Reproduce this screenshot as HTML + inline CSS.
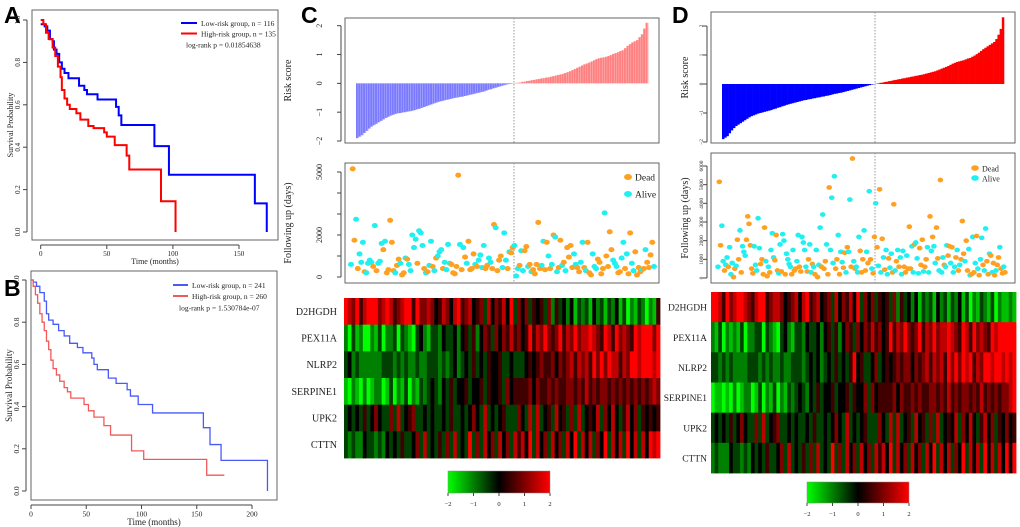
<!DOCTYPE html>
<html><head><meta charset="utf-8"><title>Risk model figure</title>
<style>
html,body{margin:0;padding:0;background:#fff;}
svg{display:block;font-family:"Liberation Serif",serif;}
.pl{font-family:"Liberation Sans",sans-serif;font-weight:bold;font-size:23px;}
</style></head>
<body>
<svg id="fig" width="1020" height="527" viewBox="0 0 1020 527" xmlns="http://www.w3.org/2000/svg">
<text class="pl" x="4" y="23">A</text>
<text class="pl" x="4" y="296">B</text>
<text class="pl" x="301" y="23">C</text>
<text class="pl" x="672" y="23">D</text>
</svg>
<script>
// ---------- Kaplan-Meier data ----------
const kmATicksX=[0,50,100,150];
const kmATicksY=[0,0.2,0.4,0.6,0.8,1.0];
const kmALow=[[0,0.98],[3,0.97],[5,0.95],[7,0.91],[9,0.9],[10,0.86],[12,0.84],[14,0.8],[16,0.77],[18,0.75],[21,0.725],[29,0.69],[33,0.67],[35,0.65],[43,0.625],[57,0.59],[59,0.55],[61,0.505],[86,0.405],[97,0.27],[162,0.135],[171,0]];
const kmAHigh=[[0,1],[2,0.98],[4,0.94],[6,0.91],[9,0.87],[11,0.83],[13,0.78],[15,0.73],[16,0.67],[18,0.63],[20,0.6],[22,0.58],[27,0.56],[30,0.53],[36,0.5],[40,0.49],[48,0.47],[50,0.45],[56,0.41],[65,0.36],[67,0.295],[91,0.145],[102,0]];
const kmALegend=["Low-risk group, n = 116","High-risk group, n = 135","log-rank p = 0.01854638"];
const kmBTicksX=[0,50,100,150,200];
const kmBTicksY=[0,0.2,0.4,0.6,0.8,1.0];
const kmBLow=[[0,1],[2,0.99],[5,0.97],[8,0.94],[12,0.9],[14,0.84],[16,0.81],[20,0.79],[25,0.76],[30,0.735],[35,0.7],[42,0.68],[47,0.655],[55,0.63],[57,0.6],[60,0.575],[70,0.535],[77,0.51],[87,0.48],[90,0.45],[97,0.41],[110,0.37],[156,0.3],[162,0.22],[172,0.145],[214,0]];
const kmBHigh=[[0,1],[2,0.97],[4,0.93],[6,0.89],[8,0.84],[10,0.8],[12,0.76],[14,0.71],[16,0.67],[18,0.62],[20,0.58],[23,0.55],[26,0.52],[30,0.49],[33,0.47],[36,0.44],[48,0.41],[52,0.38],[57,0.35],[66,0.31],[72,0.265],[91,0.19],[102,0.15],[159,0.075],[175,0.075]];
const kmBLegend=["Low-risk group, n = 241","High-risk group, n = 260","log-rank p = 1.530784e-07"];

// ---------- Risk score data ----------
const cRisk=[-1.9,-1.85,-1.8,-1.72,-1.65,-1.57,-1.5,-1.45,-1.4,-1.35,-1.3,-1.25,-1.2,-1.16,-1.12,-1.09,-1.06,-1.04,-1.03,-1.01,-1.0,-0.98,-0.97,-0.95,-0.93,-0.9,-0.88,-0.85,-0.82,-0.79,-0.76,-0.73,-0.7,-0.67,-0.64,-0.62,-0.6,-0.58,-0.56,-0.54,-0.52,-0.5,-0.49,-0.47,-0.46,-0.44,-0.42,-0.4,-0.38,-0.36,-0.34,-0.32,-0.3,-0.28,-0.25,-0.22,-0.2,-0.17,-0.15,-0.12,-0.1,-0.07,-0.05,-0.03,-0.02,-0.01,0.01,0.02,0.03,0.05,0.06,0.08,0.09,0.11,0.12,0.14,0.15,0.17,0.18,0.2,0.21,0.23,0.25,0.27,0.29,0.31,0.33,0.36,0.39,0.42,0.46,0.5,0.54,0.58,0.62,0.66,0.69,0.72,0.76,0.8,0.84,0.87,0.89,0.9,0.92,0.95,0.98,1.02,1.05,1.08,1.12,1.15,1.22,1.3,1.36,1.42,1.46,1.5,1.6,1.7,1.9,2.1];
const dRisk=[-1.9,-1.85,-1.8,-1.7,-1.6,-1.52,-1.45,-1.4,-1.35,-1.3,-1.25,-1.2,-1.15,-1.11,-1.08,-1.05,-1.02,-1.0,-0.98,-0.96,-0.94,-0.92,-0.9,-0.87,-0.85,-0.82,-0.8,-0.77,-0.75,-0.72,-0.7,-0.68,-0.66,-0.64,-0.62,-0.6,-0.58,-0.56,-0.55,-0.53,-0.52,-0.5,-0.49,-0.47,-0.46,-0.44,-0.43,-0.41,-0.4,-0.38,-0.36,-0.34,-0.33,-0.31,-0.3,-0.28,-0.26,-0.24,-0.22,-0.2,-0.18,-0.16,-0.14,-0.12,-0.1,-0.08,-0.06,-0.04,-0.02,-0.01,0.01,0.02,0.04,0.05,0.07,0.08,0.1,0.11,0.13,0.14,0.16,0.17,0.19,0.2,0.22,0.23,0.25,0.26,0.28,0.29,0.31,0.32,0.34,0.36,0.38,0.4,0.42,0.44,0.47,0.5,0.53,0.56,0.59,0.62,0.66,0.7,0.73,0.76,0.78,0.8,0.82,0.85,0.88,0.9,0.94,0.98,1.03,1.08,1.14,1.2,1.25,1.3,1.35,1.4,1.45,1.55,1.7,1.9,2.3];
const riskTicks=[-2,-1,0,1,2];

// ---------- Follow-up data (days, dead=1) ----------
const cDays=[600,5150,1750,2750,400,1100,700,1650,250,200,650,800,700,500,2450,300,650,750,1600,1300,1700,200,350,2700,1650,300,200,550,850,650,100,200,900,850,600,300,2000,1400,1800,650,2200,2100,1500,400,200,250,550,1700,500,300,900,1000,1200,1300,400,700,350,1550,650,600,200,150,500,4850,1550,350,1400,950,650,1700,350,400,1100,600,500,800,1050,450,1500,400,550,900,700,400,2500,2350,300,800,1000,450,2100,800,400,1200,1150,1400,1500,50,400,550,1250,300,1250,1450,500,600,250,350,150,600,2600,400,550,1700,350,1650,1000,400,600,2000,1900,250,450,1750,550,700,300,1400,950,1500,450,1100,600,450,250,700,1650,450,300,1650,200,100,1100,500,400,850,700,150,400,3050,1000,500,2150,1300,800,650,500,200,250,900,1650,400,1100,150,2100,650,300,1200,100,450,250,350,400,1300,700,450,1050,1650,500];
const cDead=[0,1,1,0,1,0,0,0,1,0,0,0,0,1,0,1,0,0,0,1,0,1,1,1,1,1,0,1,1,0,1,1,0,1,0,0,0,0,0,1,0,0,0,1,0,1,0,0,1,0,1,0,0,0,1,0,0,0,0,1,1,1,1,1,0,1,0,1,0,1,1,1,1,0,1,0,0,0,0,1,1,0,0,1,1,0,1,1,1,0,0,0,1,0,1,1,0,0,0,1,0,0,1,1,0,1,0,1,1,1,1,1,0,0,1,1,0,1,0,1,0,0,1,1,0,1,0,1,1,1,1,0,0,1,1,0,0,1,0,1,1,1,0,0,0,1,1,1,1,0,1,1,1,1,0,0,0,1,1,0,0,1,0,1,1,0,0,1,1,1,1,0,1,0,1,1,1,1,0,1,0,1,0,1,0];
const dDays=[600,5150,1750,2800,900,400,700,1100,600,1650,200,800,50,500,650,2050,1000,2550,300,1700,1400,1200,2050,3300,2900,1750,500,250,1700,700,400,3200,1600,750,1000,200,2700,900,100,600,300,1500,2400,1100,950,2300,400,250,1800,350,2350,2000,200,1300,1000,750,600,200,1500,400,500,900,2300,600,350,2200,1900,1500,600,350,1000,1800,300,750,600,200,1500,50,700,2700,600,3400,500,900,1800,200,4850,1500,4300,800,5450,500,1000,2300,200,1400,850,550,1350,300,1650,1400,4200,600,6400,900,500,600,300,2200,1450,300,1000,2550,400,1400,800,4650,1000,500,250,2200,4000,1650,650,4750,300,2100,1100,450,1500,200,1050,550,1300,300,3950,400,900,1500,600,1100,200,1450,600,300,1200,500,2750,500,1700,300,1800,1900,1050,250,1600,700,2050,350,600,1000,1650,300,3300,1450,2200,1700,800,2700,1050,400,5250,300,1100,700,600,1750,1200,1700,800,1650,300,600,1100,1500,400,700,1000,3050,1300,900,2000,400,1550,150,200,2200,300,800,2250,500,150,1000,2150,700,400,2650,900,200,1300,1200,300,800,150,400,700,1100,1650,500,250,600,300];
const dDead=[0,1,1,0,0,1,0,0,1,0,0,0,1,1,0,1,1,0,1,0,0,0,1,1,1,1,1,1,0,0,0,0,0,1,1,1,1,0,1,0,1,0,0,0,1,1,1,0,0,1,0,0,1,0,0,0,0,1,0,1,1,0,0,1,1,0,0,0,0,1,1,0,0,1,0,1,0,1,0,0,1,0,1,1,0,1,1,0,0,0,0,1,1,0,1,0,0,1,1,0,1,0,0,1,1,0,1,0,0,0,1,1,1,0,1,0,1,0,1,0,1,1,0,1,0,1,0,1,0,1,0,0,1,0,0,1,1,0,1,0,1,0,0,0,1,1,0,1,1,1,0,0,1,0,0,0,1,1,1,0,1,1,0,0,1,0,1,0,0,1,1,0,1,0,0,1,0,0,1,1,0,1,0,0,1,0,1,0,1,1,1,0,1,1,0,0,1,0,1,0,1,0,1,0,0,1,0,0,1,1,0,1,0,1,1,0,1,1,0,1,1,0,1,0];
const cFollowTicks=[0,1000,2000,3000,4000,5000];
const cFollowLabels=["0","","2000","","","5000"];
const dFollowTicks=[0,1000,2000,3000,4000,5000,6000];
const dFollowLabels=["0","1000","2000","3000","4000","5000","6000"];

// ---------- Heatmap data (digit 0..8 => -2..2) ----------
const genes=["D2HGDH","PEX11A","NLRP2","SERPINE1","UPK2","CTTN"];
const cHeat=[
"876857888678756788586676457647856745637465748364635453625342413231423132413021320215",
"203120021302230321034213324334245352465364657564585768656857686778765875867658788868",
"342322222233323232232233323234234353435445334333454565564656757675868687757688788878",
"102102012201302130213234324353445344535445364555564655656556656575656656565656565676",
"343435346433637345633434334353343464373434533364373734537453637345473647435746354545",
"323224332324343533463734353637343836374637463757483746374637483747364837473847374878"];
const dHeat=[
"887586788765788567764567478567456374657483646354536253424132314231324130213213021121",
"213021213022330321034213324334245352465364657564585768656857686778765875867658788888",
"332323222233323232232233323434234353435845334634545656646567576758686878576887887878",
"011010201220130213021323432435344534453544636455556465565655665657565665657565656678",
"343435346433637345633434334353343464373434533364373734537453637345473647435746354645",
"232224332324343533463734353637343836374637463757483746374637483747364837473847374848"];
const cbTicks=[-2,-1,0,1,2];
const cbLabels=["\u22122","\u22121","0","1","2"];

// ---------- helpers ----------
const svg=document.getElementById('fig');
const NS="http://www.w3.org/2000/svg";
function mk(tag,attrs,name,parent){
  const el=document.createElementNS(NS,tag);
  for(const k in attrs) el.setAttribute(k,attrs[k]);
  
  
  (parent||svg).appendChild(el);
  return el;
}
function txt(x,y,s,name,size,anchor,rot,parent){
  const a={x:x,y:y,'font-size':size,'text-anchor':anchor||'middle',fill:'#222'};
  if(rot) a.transform='rotate('+rot+' '+x+' '+y+')';
  const t=mk('text',a,name,parent);
  t.textContent=s;
  return t;
}
function lin(d0,d1,r0,r1){return v=>r0+(v-d0)/(d1-d0)*(r1-r0);}
function box(x0,y0,x1,y1,name){mk('rect',{x:x0,y:y0,width:x1-x0,height:y1-y0,fill:'none',stroke:'#666','stroke-width':1},name);}

// ---------- KM panels ----------
function km(cfg){
  const X=lin(0,cfg.xmax,cfg.x0,cfg.x1), Y=lin(0,1,cfg.y0,cfg.y1);
  box(cfg.bx0,cfg.by0,cfg.bx1,cfg.by1,cfg.id+'-plot-frame');
  const ay=cfg.by1+5;
  mk('line',{x1:X(cfg.tx[0]),y1:ay,x2:X(cfg.tx[cfg.tx.length-1]),y2:ay,stroke:'#444'},cfg.id+'-x-axis');
  cfg.tx.forEach(t=>{
    mk('line',{x1:X(t),y1:ay,x2:X(t),y2:ay+4,stroke:'#444'},cfg.id+'-x-tick');
    txt(X(t),ay+cfg.tfs+4,String(t),cfg.id+'-x-tick-label',cfg.tfs);
  });
  txt((cfg.bx0+cfg.bx1)/2,ay+cfg.tfs*2+5,'Time (months)',cfg.id+'-x-axis-title',cfg.afs);
  const ax=cfg.bx0-5;
  mk('line',{x1:ax,y1:Y(0),x2:ax,y2:Y(1),stroke:'#444'},cfg.id+'-y-axis');
  cfg.ty.forEach(t=>{
    mk('line',{x1:ax,y1:Y(t),x2:ax-4,y2:Y(t),stroke:'#444'},cfg.id+'-y-tick');
    txt(ax-7,Y(t),t.toFixed(1),cfg.id+'-y-tick-label',cfg.tfs,'middle',-90);
  });
  txt(cfg.ylx,(cfg.by0+cfg.by1)/2,'Survival Probability',cfg.id+'-y-axis-title',cfg.afs,'middle',-90);
  [[cfg.low,cfg.cl,'low-risk-curve'],[cfg.high,cfg.ch,'high-risk-curve']].forEach(([s,c,n])=>{
    let d='M'+X(s[0][0])+' '+Y(s[0][1]);
    for(let i=1;i<s.length;i++){d+=' H'+X(s[i][0])+' V'+Y(s[i][1]);}
    mk('path',{d:d,fill:'none',stroke:c,'stroke-width':cfg.lw},cfg.id+'-'+n);
  });
  const L=cfg.leg;
  mk('line',{x1:L.x,y1:L.y,x2:L.x+L.w,y2:L.y,stroke:cfg.cl,'stroke-width':2},cfg.id+'-legend-low-swatch');
  txt(L.x+L.w+4,L.y+3,cfg.legend[0],cfg.id+'-legend-low',cfg.lfs,'start');
  mk('line',{x1:L.x,y1:L.y+L.dy,x2:L.x+L.w,y2:L.y+L.dy,stroke:cfg.ch,'stroke-width':2},cfg.id+'-legend-high-swatch');
  txt(L.x+L.w+4,L.y+L.dy+3,cfg.legend[1],cfg.id+'-legend-high',cfg.lfs,'start');
  txt(L.px,L.y+2*L.dy+3.5,cfg.legend[2],cfg.id+'-logrank-p',cfg.lfs,'start');
}
km({id:'km-a',xmax:150,x0:40.7,x1:239,y0:232,y1:20,bx0:32,by0:10,bx1:278,by1:240,tx:kmATicksX,ty:kmATicksY,low:kmALow,high:kmAHigh,cl:'#0000ff',ch:'#ff0000',lw:2,tfs:7,afs:8,ylx:13,legend:kmALegend,lfs:7.5,leg:{x:181,y:23,w:16,dy:10.5,px:186}});
km({id:'km-b',xmax:200,x0:31,x1:252,y0:491,y1:280,bx0:31,by0:271,bx1:277,by1:500,tx:kmBTicksX,ty:kmBTicksY,low:kmBLow,high:kmBHigh,cl:'#4a5af5',ch:'#f05a5a',lw:1.3,tfs:7.5,afs:9,ylx:12,legend:kmBLegend,lfs:7.5,leg:{x:173,y:285,w:15,dy:11,px:179}});

// ---------- risk score panels ----------
function riskPanel(cfg){
  const Y=lin(-2,2,cfg.ym2,cfg.yp2);
  box(cfg.bx0,cfg.by0,cfg.bx1,cfg.by1,cfg.id+'-risk-frame');
  const n=cfg.data.length, w=(cfg.x1-cfg.x0)/n;
  let split=0;
  cfg.data.forEach((v,i)=>{
    if(v<0) split=i+1;
    const y0=Y(0), y1=Y(v);
    mk('rect',{x:cfg.x0+i*w,y:Math.min(y0,y1),width:w+0.3,height:Math.abs(y1-y0),fill:v<0?cfg.cb:cfg.cr},cfg.id+'-risk-bar');
    if(cfg.stripe) mk('rect',{x:cfg.x0+i*w+w*0.75,y:Math.min(y0,y1),width:w*0.25,height:Math.abs(y1-y0),fill:'#fff',opacity:0.45},cfg.id+'-risk-bar-gap');
  });
  const vx=cfg.x0+split*w;
  mk('line',{x1:vx,y1:cfg.by0,x2:vx,y2:cfg.by1,stroke:'#999','stroke-dasharray':'1.5,1.5'},cfg.id+'-risk-cutoff-line');
  mk('line',{x1:cfg.bx0-4,y1:Y(-2),x2:cfg.bx0-4,y2:Y(2),stroke:'#444'},cfg.id+'-risk-y-axis');
  riskTicks.forEach(t=>{
    mk('line',{x1:cfg.bx0-4,y1:Y(t),x2:cfg.bx0-8,y2:Y(t),stroke:'#444'},cfg.id+'-risk-y-tick');
    txt(cfg.tlx,Y(t),String(t).replace('-','\u2212'),cfg.id+'-risk-y-tick-label',cfg.tfs,'middle',-90);
  });
  txt(cfg.ylx,(cfg.by0+cfg.by1)/2,'Risk score',cfg.id+'-risk-y-axis-title',10,'middle',-90);
  return {vx:vx};
}
const cR=riskPanel({id:'c',data:cRisk,bx0:345,by0:18,bx1:659,by1:143,x0:356,x1:648,ym2:141,yp2:25.7,cb:'#7a7aff',cr:'#ff8080',stripe:true,tlx:322,tfs:8,ylx:291});
const dR=riskPanel({id:'d',data:dRisk,bx0:711,by0:12,bx1:1015,by1:143,x0:722,x1:1004,ym2:142,yp2:26,cb:'#0000ff',cr:'#ff0000',stripe:false,tlx:703,tfs:5.5,ylx:688});

// ---------- follow-up panels ----------
function followPanel(cfg){
  const Y=lin(0,cfg.tk[cfg.tk.length-1],cfg.y0,cfg.ytop);
  box(cfg.bx0,cfg.by0,cfg.bx1,cfg.by1,cfg.id+'-follow-frame');
  mk('line',{x1:cfg.vx,y1:cfg.by0,x2:cfg.vx,y2:cfg.by1,stroke:'#999','stroke-dasharray':'1.5,1.5'},cfg.id+'-follow-cutoff-line');
  const n=cfg.days.length;
  cfg.days.forEach((v,i)=>{
    const x=cfg.x0+i*(cfg.x1-cfg.x0)/(n-1);
    mk('ellipse',{cx:x,cy:Y(v),rx:cfg.r,ry:cfg.r*0.85,fill:cfg.dead[i]?'#ffa020':'#20f0f0'},cfg.id+(cfg.dead[i]?'-dead-point':'-alive-point'));
  });
  mk('line',{x1:cfg.bx0-4,y1:Y(cfg.tk[0]),x2:cfg.bx0-4,y2:Y(cfg.tk[cfg.tk.length-1]),stroke:'#444'},cfg.id+'-follow-y-axis');
  cfg.tk.forEach((t,i)=>{
    mk('line',{x1:cfg.bx0-4,y1:Y(t),x2:cfg.bx0-8,y2:Y(t),stroke:'#444'},cfg.id+'-follow-y-tick');
    if(cfg.lb[i]) txt(cfg.tlx,Y(t),cfg.lb[i],cfg.id+'-follow-y-tick-label',cfg.tfs,'middle',-90);
  });
  txt(cfg.ylx,(cfg.by0+cfg.by1)/2,'Following up (days)',cfg.id+'-follow-y-axis-title',10,'middle',-90);
  const L=cfg.leg;
  mk('ellipse',{cx:L.x,cy:L.y,rx:cfg.r+1,ry:cfg.r,fill:'#ffa020'},cfg.id+'-legend-dead-swatch');
  txt(L.x+7,L.y+3.5,'Dead',cfg.id+'-legend-dead',L.fs,'start');
  mk('ellipse',{cx:L.x,cy:L.y+L.dy,rx:cfg.r+1,ry:cfg.r,fill:'#20f0f0'},cfg.id+'-legend-alive-swatch');
  txt(L.x+7,L.y+L.dy+3.5,'Alive',cfg.id+'-legend-alive',L.fs,'start');
}
followPanel({id:'c',days:cDays,dead:cDead,tk:cFollowTicks,lb:cFollowLabels,bx0:345,by0:163,bx1:659,by1:283,x0:351,x1:654,y0:277,ytop:172,vx:cR.vx,r:3,tlx:322,tfs:8,ylx:291,leg:{x:628,y:177,dy:17,fs:9.5}});
followPanel({id:'d',days:dDays,dead:dDead,tk:dFollowTicks,lb:dFollowLabels,bx0:711,by0:153,bx1:1015,by1:283,x0:718,x1:1005,y0:278,ytop:166,vx:dR.vx,r:2.8,tlx:703,tfs:5.5,ylx:688,leg:{x:975,y:168,dy:10,fs:8}});

// ---------- heatmaps ----------
function col(v){
  const a=Math.min(1,Math.abs(v)/2);
  const c=Math.round(255*a);
  return v<0?'rgb(0,'+c+',0)':'rgb('+c+',0,0)';
}
function heat(cfg){
  const rows=cfg.data.length, rh=(cfg.y1-cfg.y0)/rows;
  cfg.data.forEach((s,r)=>{
    const n=s.length, cw=(cfg.x1-cfg.x0)/n;
    for(let i=0;i<n;i++){
      const v=(parseInt(s[i],10)-4)/2;
      mk('rect',{x:cfg.x0+i*cw,y:cfg.y0+r*rh,width:cw+0.4,height:rh+0.4,fill:col(v)},cfg.id+'-heatmap-cell');
    }
    txt(cfg.lx,cfg.y0+r*rh+rh/2+3.5,genes[r],cfg.id+'-gene-label',cfg.fs,'end');
  });
  const g=mk('linearGradient',{id:cfg.id+'grad',x1:'0',x2:'1',y1:'0',y2:'0'},cfg.id+'-colorbar-gradient');
  [['0%','#00ff00'],['50%','#000000'],['100%','#ff0000']].forEach(([o,c])=>mk('stop',{offset:o,'stop-color':c},cfg.id+'-gradient-stop',g));
  const C=cfg.cb;
  mk('rect',{x:C.x0,y:C.y0,width:C.x1-C.x0,height:C.y1-C.y0,fill:'url(#'+cfg.id+'grad)',stroke:'#888','stroke-width':0.5},cfg.id+'-colorbar');
  const X=lin(-2,2,C.x0,C.x1);
  cbTicks.forEach((t,i)=>{
    mk('line',{x1:X(t),y1:C.y1,x2:X(t),y2:C.y1+3,stroke:'#444'},cfg.id+'-colorbar-tick');
    txt(X(t),C.y1+13,cbLabels[i],cfg.id+'-colorbar-tick-label',6.5);
  });
}
heat({id:'c',data:cHeat,x0:344,x1:660,y0:298,y1:458,lx:337,fs:10,cb:{x0:448,x1:550,y0:471,y1:493}});
heat({id:'d',data:dHeat,x0:711,x1:1016,y0:292,y1:473,lx:707,fs:9.5,cb:{x0:807,x1:909,y0:482,y1:503}});
</script>
</body></html>
